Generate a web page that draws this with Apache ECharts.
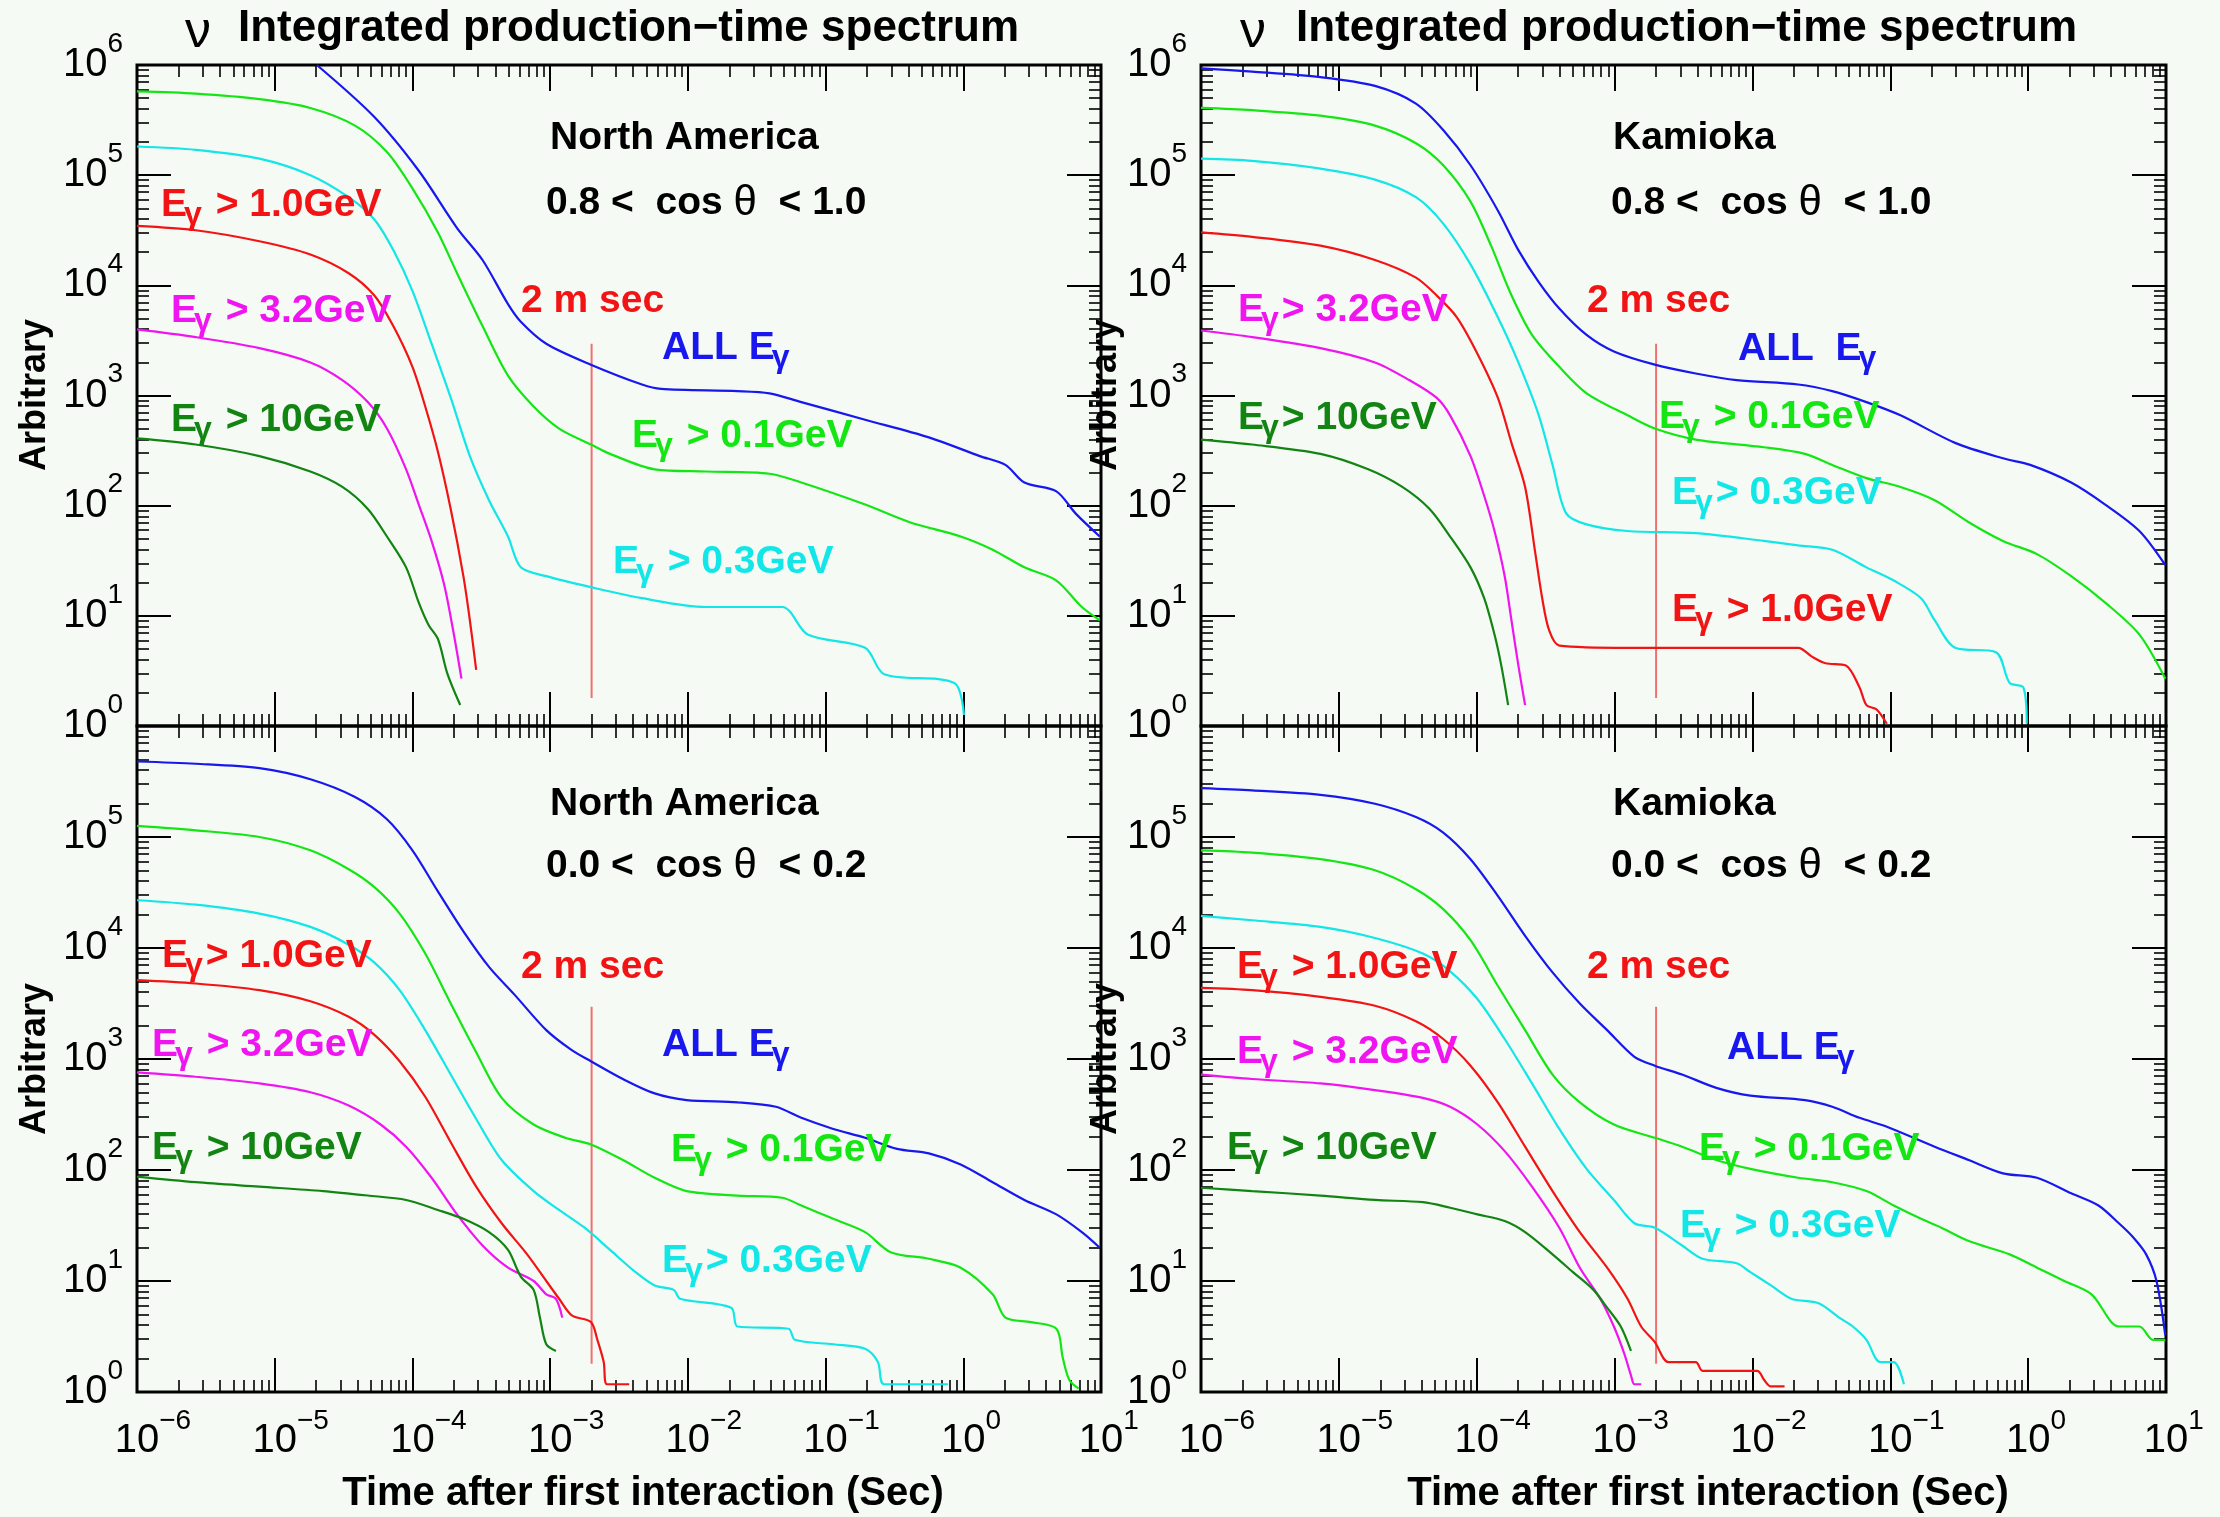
<!DOCTYPE html>
<html><head><meta charset="utf-8">
<script src="https://cdn.jsdelivr.net/npm/echarts@6/dist/echarts.min.js"></script>
<style>html,body{margin:0;padding:0;background:#f5faf5}#c{width:2220px;height:1517px}</style>
</head><body><div id="c"></div>
<script>
// ---------------- DATA (readings as [log10 time(s), log10 value]) ----------------
// Top-left: North America, 0.8 < cos(theta) < 1.0
const TL_ALL = [[-4.694,6.0],[-4.278,5.53],[-3.954,5.04],[-3.676,4.52],[-3.491,4.23],[-3.306,3.83],[-3.213,3.67],[-3.028,3.47],[-2.704,3.28],[-2.333,3.10],[-2.194,3.06],[-1.639,3.04],[-1.407,3.02],[-1.176,2.94],[-0.713,2.78],[-0.250,2.62],[0.120,2.45],[0.306,2.37],[0.444,2.21],[0.676,2.13],[0.815,1.93],[0.991,1.72]];
const TL_E01 = [[-6.0,5.76],[-5.574,5.74],[-5.111,5.69],[-4.741,5.61],[-4.417,5.45],[-4.185,5.21],[-4.0,4.88],[-3.815,4.48],[-3.676,4.11],[-3.491,3.63],[-3.306,3.18],[-3.120,2.90],[-2.935,2.70],[-2.704,2.555],[-2.565,2.47],[-2.241,2.33],[-1.870,2.31],[-1.407,2.29],[-1.176,2.21],[-0.713,2.01],[-0.389,1.85],[-0.019,1.72],[0.213,1.60],[0.444,1.44],[0.676,1.32],[0.861,1.08],[0.991,0.96]];
const TL_E03 = [[-6.0,5.26],[-5.574,5.23],[-5.111,5.15],[-4.741,5.00],[-4.463,4.80],[-4.278,4.60],[-4.139,4.32],[-4.0,3.95],[-3.861,3.47],[-3.722,2.98],[-3.583,2.45],[-3.444,2.05],[-3.306,1.72],[-3.213,1.44],[-3.028,1.36],[-2.704,1.26],[-2.333,1.16],[-1.870,1.08],[-1.315,1.08],[-1.130,0.83],[-0.713,0.71],[-0.574,0.47],[-0.065,0.39],[0.005,0.10]];
const TL_E1 = [[-6.0,4.54],[-5.574,4.50],[-5.111,4.40],[-4.741,4.28],[-4.463,4.11],[-4.278,3.91],[-4.139,3.63],[-4.0,3.26],[-3.907,2.90],[-3.815,2.49],[-3.722,1.97],[-3.630,1.36],[-3.583,0.96],[-3.537,0.51]];
const TL_E32 = [[-6.0,3.60],[-5.574,3.53],[-5.111,3.43],[-4.741,3.30],[-4.509,3.14],[-4.324,2.94],[-4.185,2.70],[-4.046,2.33],[-3.954,2.01],[-3.861,1.68],[-3.769,1.28],[-3.699,0.83],[-3.644,0.43]];
const TL_E10 = [[-6.0,2.61],[-5.574,2.555],[-5.111,2.45],[-4.741,2.31],[-4.509,2.17],[-4.324,1.97],[-4.185,1.72],[-4.046,1.44],[-3.954,1.12],[-3.884,0.92],[-3.815,0.79],[-3.745,0.47],[-3.653,0.19]];

// Top-right: Kamioka, 0.8 < cos(theta) < 1.0
const TR_ALL = [[-6.0,5.97],[-5.629,5.94],[-5.134,5.89],[-4.738,5.81],[-4.441,5.65],[-4.243,5.41],[-4.045,5.09],[-3.847,4.68],[-3.698,4.32],[-3.550,4.03],[-3.401,3.79],[-3.203,3.55],[-3.005,3.40],[-2.708,3.28],[-2.411,3.20],[-2.114,3.14],[-1.668,3.10],[-1.421,3.04],[-1.173,2.94],[-0.926,2.82],[-0.530,2.57],[-0.183,2.43],[0.015,2.37],[0.312,2.21],[0.559,2.01],[0.807,1.77],[0.995,1.46]];
const TR_E01 = [[-6.0,5.61],[-5.629,5.59],[-5.134,5.54],[-4.738,5.45],[-4.441,5.29],[-4.243,5.09],[-4.045,4.76],[-3.896,4.36],[-3.748,3.91],[-3.599,3.55],[-3.401,3.26],[-3.203,3.02],[-2.906,2.82],[-2.708,2.70],[-2.411,2.60],[-1.916,2.53],[-1.619,2.47],[-1.421,2.37],[-1.173,2.25],[-0.926,2.17],[-0.678,2.05],[-0.431,1.85],[-0.183,1.68],[0.064,1.56],[0.312,1.36],[0.559,1.12],[0.807,0.83],[0.995,0.43]];
const TR_E03 = [[-6.0,5.15],[-5.629,5.13],[-5.134,5.06],[-4.738,4.96],[-4.441,4.80],[-4.243,4.56],[-4.045,4.19],[-3.847,3.71],[-3.698,3.30],[-3.550,2.82],[-3.450,2.37],[-3.351,1.93],[-3.203,1.83],[-2.906,1.77],[-2.411,1.75],[-1.916,1.68],[-1.668,1.64],[-1.421,1.60],[-1.173,1.44],[-0.975,1.32],[-0.777,1.16],[-0.678,0.96],[-0.530,0.71],[-0.233,0.67],[-0.134,0.39],[-0.035,0.35],[-0.010,0.02]];
const TR_E1 = [[-6.0,4.48],[-5.629,4.44],[-5.134,4.36],[-4.738,4.23],[-4.441,4.07],[-4.292,3.91],[-4.144,3.71],[-3.995,3.38],[-3.847,2.98],[-3.748,2.57],[-3.649,2.17],[-3.574,1.56],[-3.525,1.16],[-3.475,0.87],[-3.401,0.73],[-2.906,0.71],[-1.668,0.71],[-1.569,0.63],[-1.470,0.57],[-1.322,0.55],[-1.223,0.35],[-1.173,0.19],[-1.099,0.15],[-1.025,0.02]];
const TR_E32 = [[-6.0,3.59],[-5.629,3.53],[-5.134,3.43],[-4.738,3.30],[-4.490,3.14],[-4.292,2.98],[-4.193,2.82],[-4.045,2.45],[-3.946,2.09],[-3.871,1.77],[-3.797,1.36],[-3.748,0.96],[-3.698,0.55],[-3.649,0.19]];
const TR_E10 = [[-6.0,2.60],[-5.629,2.555],[-5.134,2.47],[-4.787,2.33],[-4.540,2.17],[-4.342,1.97],[-4.193,1.72],[-4.045,1.44],[-3.946,1.16],[-3.871,0.83],[-3.822,0.55],[-3.772,0.19]];

// Bottom-left: North America, 0.0 < cos(theta) < 0.2
const BL_ALL = [[-6.0,5.68],[-5.574,5.66],[-5.111,5.62],[-4.741,5.52],[-4.417,5.36],[-4.185,5.16],[-4.0,4.88],[-3.815,4.51],[-3.630,4.15],[-3.444,3.83],[-3.259,3.58],[-3.028,3.26],[-2.843,3.08],[-2.704,2.98],[-2.472,2.82],[-2.241,2.69],[-2.009,2.63],[-1.639,2.61],[-1.361,2.57],[-1.176,2.47],[-0.944,2.37],[-0.713,2.29],[-0.481,2.19],[-0.250,2.15],[-0.019,2.05],[0.213,1.89],[0.444,1.73],[0.676,1.60],[0.861,1.44],[0.991,1.30]];
const BL_E01 = [[-6.0,5.10],[-5.574,5.06],[-5.111,5.00],[-4.741,4.88],[-4.463,4.71],[-4.278,4.55],[-4.093,4.31],[-3.907,3.95],[-3.722,3.50],[-3.537,3.06],[-3.352,2.65],[-3.120,2.41],[-2.889,2.29],[-2.704,2.23],[-2.472,2.09],[-2.241,1.93],[-2.009,1.81],[-1.639,1.77],[-1.315,1.75],[-1.176,1.68],[-0.944,1.56],[-0.713,1.44],[-0.528,1.26],[-0.250,1.20],[-0.019,1.12],[0.213,0.88],[0.306,0.67],[0.491,0.63],[0.676,0.57],[0.722,0.31],[0.769,0.11],[0.838,0.03]];
const BL_E03 = [[-6.0,4.43],[-5.574,4.39],[-5.111,4.31],[-4.741,4.19],[-4.463,4.03],[-4.278,3.87],[-4.093,3.62],[-3.907,3.26],[-3.722,2.86],[-3.537,2.46],[-3.352,2.09],[-3.120,1.81],[-2.935,1.64],[-2.750,1.48],[-2.565,1.28],[-2.380,1.08],[-2.241,0.96],[-2.102,0.92],[-2.056,0.84],[-1.685,0.76],[-1.639,0.59],[-1.269,0.57],[-1.222,0.47],[-0.944,0.43],[-0.713,0.39],[-0.620,0.27],[-0.574,0.07],[-0.111,0.07]];
const BL_E1 = [[-6.0,3.71],[-5.574,3.68],[-5.111,3.62],[-4.741,3.52],[-4.463,3.38],[-4.278,3.22],[-4.093,2.98],[-3.907,2.66],[-3.722,2.25],[-3.537,1.85],[-3.352,1.52],[-3.167,1.24],[-3.028,1.00],[-2.935,0.84],[-2.843,0.69],[-2.704,0.63],[-2.657,0.47],[-2.611,0.27],[-2.588,0.07],[-2.426,0.07]];
const BL_E32 = [[-6.0,2.88],[-5.574,2.84],[-5.111,2.78],[-4.741,2.70],[-4.463,2.58],[-4.231,2.41],[-4.046,2.21],[-3.861,1.93],[-3.676,1.60],[-3.491,1.32],[-3.306,1.12],[-3.120,1.00],[-3.028,0.88],[-2.958,0.84],[-2.912,0.67]];
const BL_E10 = [[-6.0,1.94],[-5.574,1.89],[-5.111,1.85],[-4.648,1.81],[-4.324,1.77],[-4.046,1.73],[-3.815,1.64],[-3.630,1.56],[-3.444,1.44],[-3.306,1.28],[-3.213,1.04],[-3.120,0.92],[-3.074,0.67],[-3.028,0.43],[-2.958,0.37]];

// Bottom-right: Kamioka, 0.0 < cos(theta) < 0.2
const BR_ALL = [[-6.0,5.44],[-5.629,5.42],[-5.134,5.38],[-4.738,5.30],[-4.441,5.18],[-4.243,5.04],[-4.045,4.80],[-3.847,4.47],[-3.649,4.11],[-3.450,3.78],[-3.252,3.50],[-3.054,3.26],[-2.856,3.02],[-2.708,2.94],[-2.510,2.86],[-2.262,2.74],[-2.015,2.67],[-1.619,2.63],[-1.421,2.57],[-1.223,2.47],[-1.025,2.39],[-0.678,2.21],[-0.431,2.09],[-0.183,1.97],[0.064,1.93],[0.312,1.79],[0.510,1.68],[0.658,1.52],[0.757,1.40],[0.856,1.24],[0.931,1.00],[0.995,0.51]];
const BR_E01 = [[-6.0,4.88],[-5.629,4.86],[-5.134,4.80],[-4.738,4.70],[-4.441,4.53],[-4.243,4.35],[-4.045,4.07],[-3.847,3.66],[-3.649,3.26],[-3.450,2.86],[-3.252,2.61],[-3.005,2.41],[-2.708,2.29],[-2.510,2.21],[-2.262,2.09],[-2.015,2.01],[-1.668,1.93],[-1.421,1.89],[-1.173,1.81],[-0.975,1.68],[-0.777,1.56],[-0.629,1.48],[-0.431,1.36],[-0.134,1.24],[0.064,1.12],[0.262,1.00],[0.460,0.88],[0.658,0.59],[0.807,0.59],[0.906,0.47],[0.995,0.47]];
const BR_E03 = [[-6.0,4.29],[-5.629,4.25],[-5.134,4.19],[-4.738,4.09],[-4.391,3.95],[-4.193,3.79],[-3.995,3.54],[-3.797,3.18],[-3.599,2.78],[-3.401,2.37],[-3.203,2.01],[-3.005,1.73],[-2.856,1.52],[-2.708,1.48],[-2.510,1.32],[-2.361,1.20],[-2.114,1.16],[-2.015,1.08],[-1.866,0.96],[-1.718,0.84],[-1.520,0.80],[-1.371,0.67],[-1.272,0.59],[-1.173,0.47],[-1.074,0.27],[-0.975,0.27],[-0.901,0.07]];
const BR_E1 = [[-6.0,3.64],[-5.629,3.62],[-5.134,3.56],[-4.738,3.48],[-4.441,3.34],[-4.243,3.18],[-4.045,2.94],[-3.847,2.61],[-3.649,2.21],[-3.450,1.81],[-3.252,1.44],[-3.054,1.12],[-2.906,0.84],[-2.807,0.59],[-2.708,0.45],[-2.609,0.27],[-2.411,0.27],[-2.361,0.19],[-1.965,0.19],[-1.916,0.11],[-1.866,0.05],[-1.767,0.05]];
const BR_E32 = [[-6.0,2.86],[-5.629,2.82],[-5.134,2.78],[-4.738,2.72],[-4.391,2.65],[-4.193,2.57],[-3.995,2.41],[-3.797,2.17],[-3.599,1.85],[-3.401,1.48],[-3.252,1.12],[-3.104,0.84],[-3.005,0.59],[-2.931,0.35],[-2.881,0.15],[-2.856,0.07],[-2.807,0.07]];
const BR_E10 = [[-6.0,1.84],[-5.629,1.81],[-5.134,1.77],[-4.738,1.73],[-4.391,1.71],[-4.193,1.66],[-3.995,1.60],[-3.797,1.54],[-3.649,1.44],[-3.450,1.24],[-3.302,1.08],[-3.153,0.92],[-3.054,0.76],[-2.955,0.59],[-2.881,0.37]];

// 2 ms marker
const MARK_T = 0.002;
const MARK_Y = [1.8, 2950];

// axis ranges
const T_RANGE = [1e-6, 10];
const Y_RANGE = [1, 1e6];

// ---------------- STYLE / LAYOUT ----------------
const FONT = '"Liberation Sans", Arial, Helvetica, sans-serif';
const BG = '#f5faf5';
const COLORS = { all:'#1717ee', e01:'#14e614', e03:'#12e6e6', e1:'#f21414', e32:'#f014f0', e10:'#128412' };
const MARK_COLOR = '#f07070';
const SERIES_KEYS = ['all','e01','e03','e1','e32','e10'];
const PANELS = [
  {all:TL_ALL, e01:TL_E01, e03:TL_E03, e1:TL_E1, e32:TL_E32, e10:TL_E10},
  {all:TR_ALL, e01:TR_E01, e03:TR_E03, e1:TR_E1, e32:TR_E32, e10:TR_E10},
  {all:BL_ALL, e01:BL_E01, e03:BL_E03, e1:BL_E1, e32:BL_E32, e10:BL_E10},
  {all:BR_ALL, e01:BR_E01, e03:BR_E03, e1:BR_E1, e32:BR_E32, e10:BR_E10}
];
const GRID_BOXES = [
  {left:137, top:65, width:964, height:661},
  {left:1201, top:65, width:965, height:661},
  {left:137, top:726, width:964, height:666},
  {left:1201, top:726, width:965, height:666}
];

function expOf(v){ return Math.round(Math.log10(v)); }
function supText(v){ const e = expOf(v); return e < 0 ? '\u2212' + (-e) : String(e); }
// base "10" centred on the tick, superscript drawn by a twin axis
const fmtXBase = v => { const s = supText(v); return '{sp|' + s + '}{b|10}{sp|' + s + '}'; };
const fmtXSup  = v => { const s = supText(v); return '{sp|' + s + '}{bsp|10}{s|' + s + '}'; };
const fmtYBase = v => { const s = supText(v); return '{b|10}{sp|' + s + '}'; };
const fmtYSup  = v => '{s|' + supText(v) + '}';

const CLEAR = 'rgba(0,0,0,0)';
const RICH_BASE = {
  b:{fontSize:40, lineHeight:40, fontFamily:FONT, color:'#000'},
  sp:{fontSize:28, lineHeight:40, fontFamily:FONT, color:CLEAR}
};
const RICH_SUP = {
  s:{fontSize:28, lineHeight:27, fontFamily:FONT, color:'#000'},
  sp:{fontSize:28, lineHeight:27, fontFamily:FONT, color:CLEAR},
  bsp:{fontSize:40, lineHeight:27, fontFamily:FONT, color:CLEAR}
};

const TICK = {show:true, inside:true, length:34, lineStyle:{color:'#000', width:2}};
const MINOR = {show:true, splitNumber:9, length:12, lineStyle:{color:'#000', width:1.6}};
const NOTICK = {show:false};

function logAxis(i, pos, range, tick, minor, label){
  return {
    type:'log', logBase:10, gridIndex:i, position:pos, min:range[0], max:range[1], interval:1,
    axisLine:{show:false}, axisTick:tick, minorTick:minor,
    splitLine:{show:false}, minorSplitLine:{show:false}, axisLabel:label
  };
}

const grids = GRID_BOXES.map(b => Object.assign({show:true, borderColor:'#000', borderWidth:3, backgroundColor:'transparent', containLabel:false, outerBoundsMode:'none'}, b));
const xAxes = [], yAxes = [];
for (let i = 0; i < 4; i++){
  const lbl = i >= 2;
  xAxes.push(
    logAxis(i, 'bottom', T_RANGE, TICK, MINOR, {show:lbl, margin:29, formatter:fmtXBase, rich:RICH_BASE, showMinLabel:true, showMaxLabel:true}),
    logAxis(i, 'bottom', T_RANGE, NOTICK, NOTICK, {show:lbl, margin:16, formatter:fmtXSup, rich:RICH_SUP, showMinLabel:true, showMaxLabel:true}),
    logAxis(i, 'top', T_RANGE, Object.assign({}, TICK, {length:26}), MINOR, {show:false})
  );
  yAxes.push(
    logAxis(i, 'left', Y_RANGE, TICK, MINOR, {show:true, margin:14, formatter:fmtYBase, rich:RICH_BASE, showMinLabel:true, showMaxLabel: i < 2}),
    logAxis(i, 'left', Y_RANGE, NOTICK, NOTICK, {show:true, margin:14, padding:[0,0,42,0], formatter:fmtYSup, rich:RICH_SUP, showMinLabel:true, showMaxLabel: i < 2}),
    logAxis(i, 'right', Y_RANGE, TICK, MINOR, {show:false})
  );
}

const series = [];
PANELS.forEach((panel, i) => {
  series.push({
    type:'line', xAxisIndex:3*i, yAxisIndex:3*i, data:[[MARK_T, MARK_Y[0]],[MARK_T, MARK_Y[1]]],
    symbol:'none', lineStyle:{color:MARK_COLOR, width:2}, silent:true, z:1
  });
  SERIES_KEYS.forEach(k => {
    series.push({
      type:'line', name:k, xAxisIndex:3*i, yAxisIndex:3*i,
      data: panel[k].map(p => [Math.pow(10, p[0]), Math.pow(10, p[1])]),
      symbol:'none', smooth:0.3, clip:true,
      lineStyle:{color:COLORS[k], width:2.2}, silent:true, z:2
    });
  });
});

// ---------------- TEXT ----------------
const LFONT = 'bold 39px ' + FONT;
const GFONT = 'bold 32px ' + FONT;
const mctx = document.createElement('canvas').getContext('2d');
function tw(s, f){ mctx.font = f; return mctx.measureText(s).width; }
function txt(x, y, s, font, color, align, extra){
  return Object.assign({
    type:'text', x:x, y:y, silent:true, z:10,
    style:{text:s, fill:color, font:font, align:align || 'left', verticalAlign:'middle', textAlign:align || 'left', textVerticalAlign:'middle'}
  }, extra || {});
}
// "E<sub>γ</sub> ..." label: pre (ends with E), subscript γ, then post
function eLabel(x, y, pre, post, color){
  const x0 = x - 2, w1 = tw(pre, LFONT), wg = tw('\u03b3', GFONT);
  const out = [txt(x0, y, pre, LFONT, color), txt(x0 + w1 - 3, y + 10, '\u03b3', GFONT, color)];
  if (post) out.push(txt(x0 + w1 + wg, y, post, LFONT, color));
  return out;
}
const COS_RICH = {
  m:{fontSize:39, fontWeight:'bold', fontFamily:FONT, lineHeight:46},
  th:{fontSize:42, fontWeight:'normal', fontFamily:FONT, lineHeight:46}
};
function cosLabel(x, y, lo, hi){
  const el = txt(x, y, '{m|' + lo + ' <  cos }{th|\u03b8}{m|  < ' + hi + '}', LFONT, '#000');
  el.style.rich = COS_RICH;
  return el;
}
const TITLE = 'Integrated production\u2212time spectrum';
const XNAME = 'Time after first interaction (Sec)';
const YNAME = 'Arbitrary';
const ROT = {rotation:Math.PI/2};
const XFONT = 'bold 40px ' + FONT;

const graphics = [
  txt(198, 33, '\u03bd', '52px ' + FONT, '#000', 'center'),
  txt(238, 29, TITLE, 'bold 44px ' + FONT, '#000'),
  txt(1253, 33, '\u03bd', '52px ' + FONT, '#000', 'center'),
  txt(1296, 29, TITLE, 'bold 44px ' + FONT, '#000'),
  txt(643, 1494, XNAME, XFONT, '#000', 'center'),
  txt(1708, 1494, XNAME, XFONT, '#000', 'center'),
  txt(35, 395, YNAME, 'bold 36px ' + FONT, '#000', 'center', ROT),
  txt(35, 1059, YNAME, 'bold 36px ' + FONT, '#000', 'center', ROT),
  txt(1106, 395, YNAME, 'bold 36px ' + FONT, '#000', 'center', {rotation:Math.PI/2, z:-10}),
  txt(1106, 1059, YNAME, 'bold 36px ' + FONT, '#000', 'center', {rotation:Math.PI/2, z:-10}),

  // top-left
  txt(550, 138, 'North America', LFONT, '#000'),
  cosLabel(546, 203, '0.8', '1.0'),
  ...eLabel(163, 205, 'E', ' > 1.0GeV', COLORS.e1),
  txt(521, 301, '2 m sec', LFONT, COLORS.e1),
  ...eLabel(664, 348, 'ALL E', '', COLORS.all),
  ...eLabel(173, 311, 'E', ' > 3.2GeV', COLORS.e32),
  ...eLabel(173, 420, 'E', ' > 10GeV', COLORS.e10),
  ...eLabel(634, 436, 'E', ' > 0.1GeV', COLORS.e01),
  ...eLabel(615, 562, 'E', ' > 0.3GeV', COLORS.e03),

  // top-right
  txt(1613, 138, 'Kamioka', LFONT, '#000'),
  cosLabel(1611, 203, '0.8', '1.0'),
  ...eLabel(1240, 310, 'E', '> 3.2GeV', COLORS.e32),
  txt(1587, 301, '2 m sec', LFONT, COLORS.e1),
  ...eLabel(1740, 349, 'ALL  E', '', COLORS.all),
  ...eLabel(1240, 418, 'E', '> 10GeV', COLORS.e10),
  ...eLabel(1661, 417, 'E', ' > 0.1GeV', COLORS.e01),
  ...eLabel(1674, 493, 'E', '> 0.3GeV', COLORS.e03),
  ...eLabel(1674, 610, 'E', ' > 1.0GeV', COLORS.e1),

  // bottom-left
  txt(550, 804, 'North America', LFONT, '#000'),
  cosLabel(546, 866, '0.0', '0.2'),
  ...eLabel(164, 956, 'E', '> 1.0GeV', COLORS.e1),
  txt(521, 967, '2 m sec', LFONT, COLORS.e1),
  ...eLabel(154, 1045, 'E', ' > 3.2GeV', COLORS.e32),
  ...eLabel(664, 1045, 'ALL E', '', COLORS.all),
  ...eLabel(154, 1148, 'E', ' > 10GeV', COLORS.e10),
  ...eLabel(673, 1150, 'E', ' > 0.1GeV', COLORS.e01),
  ...eLabel(664, 1261, 'E', '> 0.3GeV', COLORS.e03),

  // bottom-right
  txt(1613, 804, 'Kamioka', LFONT, '#000'),
  cosLabel(1611, 866, '0.0', '0.2'),
  ...eLabel(1239, 967, 'E', ' > 1.0GeV', COLORS.e1),
  txt(1587, 967, '2 m sec', LFONT, COLORS.e1),
  ...eLabel(1239, 1052, 'E', ' > 3.2GeV', COLORS.e32),
  ...eLabel(1729, 1048, 'ALL E', '', COLORS.all),
  ...eLabel(1229, 1148, 'E', ' > 10GeV', COLORS.e10),
  ...eLabel(1701, 1149, 'E', ' > 0.1GeV', COLORS.e01),
  ...eLabel(1682, 1226, 'E', ' > 0.3GeV', COLORS.e03)
];

const chart = echarts.init(document.getElementById('c'), null, {renderer:'canvas', width:2220, height:1517});
chart.setOption({
  backgroundColor: BG,
  animation:false,
  grid: grids,
  xAxis: xAxes,
  yAxis: yAxes,
  series: series,
  graphic: graphics
});
</script></body></html>
